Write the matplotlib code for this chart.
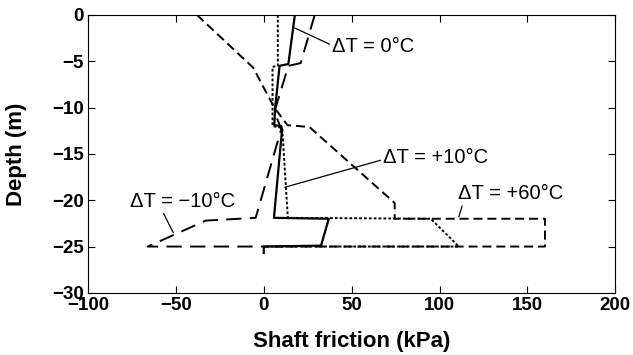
import matplotlib
matplotlib.use("Agg")
import matplotlib.pyplot as plt

plt.rcParams["font.family"] = ["Liberation Sans", "DejaVu Sans"]
plt.rcParams["lines.scale_dashes"] = False

# Shaft friction (kPa) vs depth (m) for each temperature change
dt0_x = [17.7, 14, 9, 6.5, 6, 10, 10.4, 5.8, 37, 32.6, 0, 0]
dt0_y = [0, -5.3, -5.5, -10, -11.9, -12.0, -12.4, -21.9, -22, -24.9, -25, -25.7]

dt10_x = [8, 8, 5, 5, 10.5, 13.7, 95, 111, 0]
dt10_y = [0, -5.5, -5.6, -12, -12.2, -21.9, -22, -25, -25]

dt60_x = [-38, -6, 6, 13.5, 26, 74.5, 74.5, 160, 160, 0]
dt60_y = [0, -5.7, -10, -11.9, -12.1, -20.3, -22, -22, -25, -25]

dtm10_x = [29, 21, 14, 6, 10, -4.6, -33, -66, 0]
dtm10_y = [0, -5.2, -5.5, -10.5, -12.3, -21.9, -22.2, -25, -25]

fig = plt.figure(figsize=(6.33, 3.55), dpi=100)
ax = fig.add_axes([0.139, 0.175, 0.833, 0.783])

ax.plot(dt0_x, dt0_y, color="black", lw=1.6)
ax.plot(dt10_x, dt10_y, color="black", lw=1.4, dashes=(2, 1.5))
ax.plot(dt60_x, dt60_y, color="black", lw=1.4, dashes=(6.5, 3.5))
ax.plot(dtm10_x, dtm10_y, color="black", lw=1.4, dashes=(11, 6))

# labels with leader lines
lbl = dict(fontsize=14.5, va="center", ha="left")


def leader(rel):
    return dict(arrowstyle="-", color="black", lw=0.9, shrinkA=0, shrinkB=0, relpos=rel)


ax.annotate("ΔT = 0°C", xy=(17.5, -1.4), xytext=(39, -3.4),
            arrowprops=leader((0, 0.55)), **lbl)
ax.annotate("ΔT = +10°C", xy=(12, -18.6), xytext=(68, -15.4),
            arrowprops=leader((0, 0.4)), **lbl)
ax.annotate("ΔT = \u221210°C", xy=(-51.5, -23.5), xytext=(-76, -20.1),
            arrowprops=leader((0.3, 0.05)), **lbl)
ax.annotate("ΔT = +60°C", xy=(111, -21.8), xytext=(110.5, -19.3),
            arrowprops=leader((0.05, 0.05)), **lbl)

ax.set_xlim(-100, 200)
ax.set_ylim(-30, 0)
ax.set_xticks([-100, -50, 0, 50, 100, 150, 200])
ax.set_yticks([0, -5, -10, -15, -20, -25, -30])
ax.tick_params(direction="in", top=True, right=True, length=5, labelsize=13.5, pad=3)
for t in ax.get_xticklabels() + ax.get_yticklabels():
    t.set_fontweight("bold")
ax.set_xlabel("Shaft friction (kPa)", fontsize=16, fontweight="bold", labelpad=12)
ax.set_ylabel("Depth (m)", fontsize=16, fontweight="bold", labelpad=18)

fig.savefig("out.png", dpi=100)
